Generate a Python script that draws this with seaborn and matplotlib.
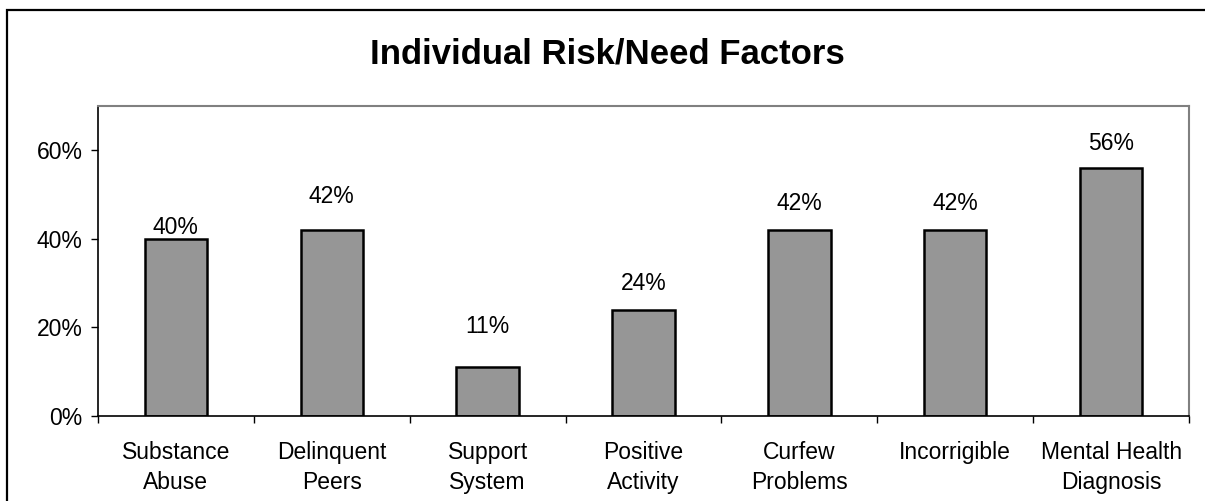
import matplotlib
matplotlib.use("Agg")
import matplotlib.pyplot as plt
import seaborn as sns
import pandas as pd
from matplotlib.patches import Rectangle
from matplotlib.ticker import PercentFormatter, FixedLocator

# -------------------------
# Data
# -------------------------
categories = ["Substance\nAbuse", "Delinquent\nPeers", "Support\nSystem",
              "Positive\nActivity", "Curfew\nProblems", "Incorrigible",
              "Mental Health\nDiagnosis"]
values = [40, 42, 11, 24, 42, 42, 56]
title = "Individual Risk/Need Factors"

# label offsets above the bar tops (pixels), as placed in the original
label_offsets = [13, 35, 43, 28, 28, 28, 26]

df = pd.DataFrame({"factor": categories, "pct": [v / 100 for v in values]})

# -------------------------
# Style
# -------------------------
sns.set_theme(style="white")
plt.rcParams["font.family"] = ["Liberation Sans", "DejaVu Sans"]
plt.rcParams["text.color"] = "black"
plt.rcParams["xtick.labelcolor"] = "black"
plt.rcParams["ytick.labelcolor"] = "black"

fig = plt.figure(figsize=(12.05, 5.01), dpi=100)
ax = fig.add_axes([98 / 1205, 1 - 416 / 501, (1189 - 98) / 1205, (416 - 105.7) / 501])

sns.barplot(data=df, x="factor", y="pct", ax=ax, color="#969696",
            saturation=1, width=0.4, edgecolor="black", linewidth=1.8)

# value labels
for i, (v, off) in enumerate(zip(values, label_offsets)):
    ax.annotate(f"{v}%", xy=(i, v / 100), xytext=(0, off - 2),
                textcoords="offset pixels", ha="center", va="center",
                fontsize=16.5, color="black")

# axes
ax.set_ylim(0, 0.7)
ax.set_xlim(-0.5, len(categories) - 0.5)
ax.yaxis.set_major_locator(FixedLocator([0, 0.2, 0.4, 0.6]))
ax.yaxis.set_major_formatter(PercentFormatter(1.0, decimals=0))
ax.set_xlabel("")
ax.set_ylabel("")

# Excel-style: ticks between categories, labels centered
ax.set_xticks([i - 0.5 for i in range(len(categories) + 1)])
ax.set_xticklabels([])
ax.set_xticks(range(len(categories)), minor=True)
ax.set_xticklabels(categories, minor=True, fontsize=16.5, linespacing=1.38)
ax.tick_params(axis="x", which="major", direction="out", length=5,
               width=1, color="black", bottom=True)
ax.tick_params(axis="x", which="minor", length=0, pad=18)
ax.tick_params(axis="y", direction="out", length=5, width=1,
               color="black", left=True, labelsize=16.5, pad=6)

for side in ["left", "bottom"]:
    ax.spines[side].set_color("black")
    ax.spines[side].set_linewidth(1.2)
for side in ["top", "right"]:
    ax.spines[side].set_color("#808080")
    ax.spines[side].set_linewidth(1.5)

# title
fig.text(607 / 1205, 1 - 54 / 501, title, ha="center", va="center",
         fontsize=25, fontweight="bold", color="black")

# outer chart border (runs off the right and bottom edge)
fig.patches.append(Rectangle((7 / 1205, -0.1), 1.2, 1.1 - 10 / 501,
                             transform=fig.transFigure, fill=False,
                             edgecolor="black", linewidth=1.6))

fig.savefig("out.png", dpi=100)
